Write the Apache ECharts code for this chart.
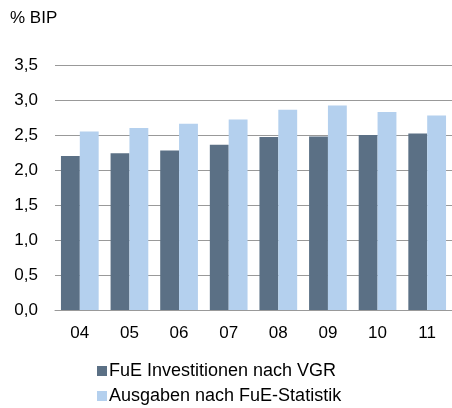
<!DOCTYPE html>
<html>
<head>
<meta charset="utf-8">
<script src="https://cdn.jsdelivr.net/npm/echarts@6/dist/echarts.min.js"></script>
<style>
  html, body { margin: 0; padding: 0; background: #fff; }
  #chart { width: 452px; height: 408px; }
</style>
</head>
<body>
<div id="chart"></div>
<script>
// Jahre
const years = ['04', '05', '06', '07', '08', '09', '10', '11'];
// % BIP
const vgr = [2.20, 2.24, 2.28, 2.36, 2.47, 2.48, 2.50, 2.52];
const fueStat = [2.55, 2.60, 2.66, 2.72, 2.86, 2.92, 2.83, 2.78];

const font = 'Liberation Sans, Arial, sans-serif';

var myChart = echarts.init(document.getElementById('chart'));
myChart.setOption({
  animation: false,
  title: {
    text: '% BIP',
    left: 5,
    top: 5,
    textStyle: { color: '#000', fontSize: 17, fontWeight: 'normal', fontFamily: font }
  },
  grid: { left: 55, right: 0, top: 65, bottom: 98 },
  legend: {
    orient: 'vertical',
    left: 92,
    top: 357,
    height: 80,
    width: 340,
    itemWidth: 10,
    itemHeight: 10,
    itemGap: 7,
    icon: 'rect',
    textStyle: { color: '#000', fontSize: 18, lineHeight: 18, fontFamily: font, padding: [0, 0, 0, -3] },
    data: ['FuE Investitionen nach VGR', 'Ausgaben nach FuE-Statistik']
  },
  xAxis: {
    type: 'category',
    data: years,
    axisLine: { lineStyle: { color: '#999', width: 1 } },
    axisTick: { show: false },
    axisLabel: { color: '#000', fontSize: 17, fontFamily: font, margin: 15 }
  },
  yAxis: {
    type: 'value',
    min: 0,
    max: 3.5,
    interval: 0.5,
    axisLine: { show: false },
    axisTick: { show: false },
    splitLine: { lineStyle: { color: '#999', width: 1 } },
    axisLabel: {
      color: '#000', fontSize: 17, fontFamily: font, margin: 17,
      formatter: v => v.toFixed(1).replace('.', ',')
    }
  },
  series: [{
    name: 'FuE Investitionen nach VGR',
    type: 'bar',
    data: vgr,
    barGap: '0%',
    barCategoryGap: '24%',
    itemStyle: { color: '#5B7085' }
  }, {
    name: 'Ausgaben nach FuE-Statistik',
    type: 'bar',
    data: fueStat,
    itemStyle: { color: '#B4D0EE' }
  }]
});
</script>
</body>
</html>
